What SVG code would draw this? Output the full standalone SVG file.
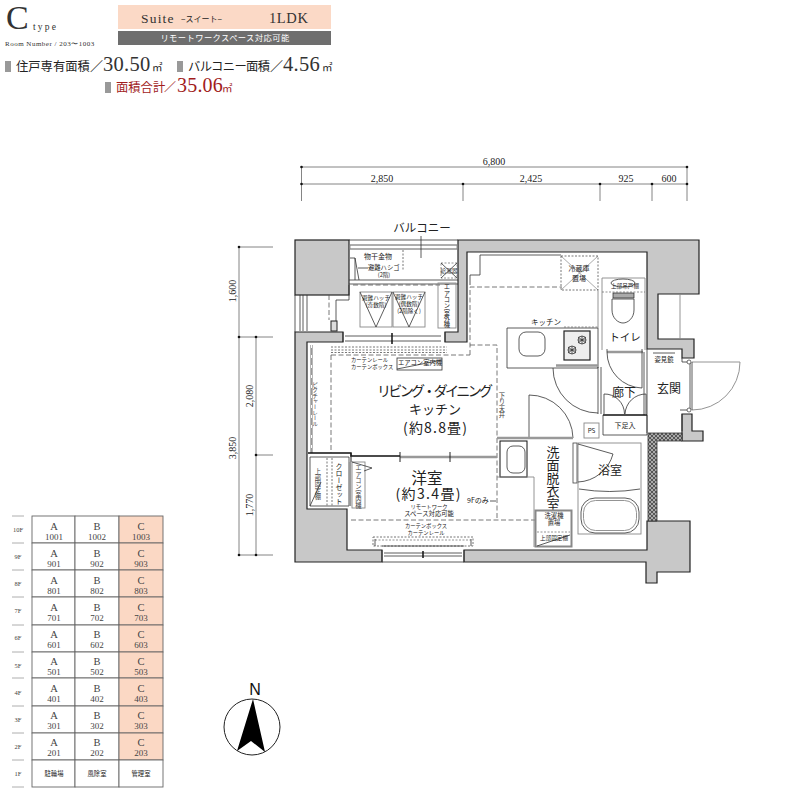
<svg xmlns="http://www.w3.org/2000/svg" width="800" height="800" viewBox="0 0 800 800">
<style>
text{font-family:"Noto Sans CJK JP","Liberation Sans",sans-serif;fill:#222}
.s{font-family:"Liberation Serif","Noto Sans CJK JP",serif}
.m{text-anchor:middle}
.v{writing-mode:vertical-rl;text-anchor:middle}
.t53{font-size:5.3px}.t5{font-size:5.6px}.t6{font-size:6.3px}.t7{font-size:7px}
.wall{fill:#c8c8c8;stroke:#222;stroke-width:1.2}
.l{fill:none;stroke:#333;stroke-width:.8}
.g{fill:none;stroke:#888;stroke-width:.9}
.k{fill:none;stroke:#111;stroke-width:1.5}
.k1{fill:none;stroke:#111;stroke-width:1}
.gb{fill:none;stroke:#999;stroke-width:2.4}
.d{fill:none;stroke:#555;stroke-width:.8;stroke-dasharray:5 2.5}
.ds{fill:none;stroke:#666;stroke-width:.7;stroke-dasharray:2 1.5}
.ds2{fill:none;stroke:#777;stroke-width:1;stroke-dasharray:2 1.5}
.dim{stroke:#666;stroke-width:.8;fill:none}
.dot{fill:#111}
.cell{fill:#fff;stroke:#666;stroke-width:.9}
.cc{fill:#fbd8c4;stroke:#666;stroke-width:.9}
.sep{stroke:#999;stroke-width:.8}
.tl{font-size:10.5px;fill:#444;text-anchor:middle}
.tn{font-size:9px;fill:#444;text-anchor:middle}
.tf{font-size:6.5px;fill:#444;text-anchor:middle}
.big{font-family:"Liberation Serif",serif;fill:#333}
.dm{font-size:10px}
</style>
<defs>
<pattern id="hatch" width="4" height="4" patternUnits="userSpaceOnUse"><rect width="4" height="4" fill="#aaa"/><path d="M0 0L4 4M4 0L0 4" stroke="#333" stroke-width=".7"/></pattern>
</defs>

<g id="header">
<text x="6" y="29" class="big" font-size="34">C</text>
<text x="33" y="30" class="big" font-size="9.5" letter-spacing="2.2">type</text>
<text x="5" y="46" class="big" font-size="7" letter-spacing=".5">Room Number / 203〜1003</text>
<rect x="118" y="5" width="213" height="24" fill="#fbd9c6"/>
<rect x="118" y="31" width="213" height="14" fill="#6e6e6e"/>
<text x="141" y="23" class="big" font-size="13.500" letter-spacing="1.200">Suite</text>
<text x="181" y="22" font-size="8" fill="#444">−スイート−</text>
<text x="269" y="23" class="big" font-size="14.500" letter-spacing=".6">1LDK</text>
<text x="225" y="41" class="m" font-size="8.300" style="fill:#fff" letter-spacing=".4">リモートワークスペース対応可能</text>
<rect x="5" y="61" width="6" height="11" fill="#999"/>
<text x="16" y="71" font-size="12.3" fill="#333">住戸専有面積</text>
<text x="90" y="71" font-size="13">／</text>
<text x="103" y="71" class="big" font-size="20.5" letter-spacing=".3">30.50</text>
<text x="152" y="71" font-size="10.5">㎡</text>
<rect x="177" y="61" width="6" height="11" fill="#999"/>
<text x="188" y="71" font-size="12.3" textLength="82">バルコニー面積</text>
<text x="270" y="71" font-size="13">／</text>
<text x="283" y="71" class="big" font-size="20.5" letter-spacing=".3">4.56</text>
<text x="322" y="71" font-size="10.5">㎡</text>
<rect x="105" y="82" width="6" height="11" fill="#999"/>
<text x="116" y="92" font-size="12.3" style="fill:#a11c1c">面積合計</text>
<text x="164" y="92" font-size="12" style="fill:#a11c1c">／</text>
<text x="177" y="92" class="big" font-size="20" style="fill:#a11c1c" letter-spacing=".2">35.06</text>
<text x="222" y="92" font-size="10.5" style="fill:#a11c1c">㎡</text>
</g>

<g id="dimensions">
<path class="dim" d="M301.500 167H687M301.500 184H687M301.500 167V201M463 184V201M600 184V201M652 184V201M687 167V201M239 247V555M256 337V555M239 247H273M239 337H273M256 455H273M239 555H273"/>
<g class="dot"><circle cx="301.500" cy="167" r="1.300"/><circle cx="687" cy="167" r="1.300"/><circle cx="301.500" cy="184" r="1.300"/><circle cx="463" cy="184" r="1.300"/><circle cx="600" cy="184" r="1.300"/><circle cx="652" cy="184" r="1.300"/><circle cx="687" cy="184" r="1.300"/><circle cx="239" cy="247" r="1.300"/><circle cx="239" cy="337" r="1.300"/><circle cx="256" cy="337" r="1.300"/><circle cx="256" cy="455" r="1.300"/><circle cx="239" cy="555" r="1.300"/><circle cx="256" cy="555" r="1.300"/></g>
<text x="494" y="165" class="s m dm">6,800</text><text x="382" y="182" class="s m dm">2,850</text><text x="531" y="182" class="s m dm">2,425</text><text x="626" y="182" class="s m dm">925</text><text x="669" y="182" class="s m dm">600</text>
<text transform="translate(236,291) rotate(-90)" class="s m dm">1,600</text>
<text transform="translate(236,448) rotate(-90)" class="s m dm">3,850</text>
<text transform="translate(253,396) rotate(-90)" class="s m dm">2,080</text>
<text transform="translate(253,505) rotate(-90)" class="s m dm">1,770</text>
</g>

<g id="plan">
<rect x="295" y="240" width="54" height="55" class="wall"/>
<path class="wall" d="M295 332H343V342H307V509H347V550H382V562H295Z"/>
<path class="wall" d="M464 550H647V521H690V572H657V583H646V562H464Z"/>
<path class="wall" d="M458 240H699V294H658V339H694V358H682V349H647V252H467V342H445V332H458Z"/>
<path class="wall" d="M682 414H692V431H703V441H682Z"/>
<path d="M648 433H682V441H657V521H648Z" fill="url(#hatch)" stroke="#333" stroke-width=".8"/>

<!-- balcony -->
<path class="l" d="M349 240H458M350 245H457M350 249H457M349 280H458M349 284H458M295 295V332M300 295V331M303 295V331M307 295V331"/>
<path class="g" d="M350 245V249M457 245V249M680 294V339"/>
<path class="d" d="M329 295V320M353 285H440"/>
<path class="ds2" d="M403 250V271"/>
<path class="l" d="M421 236V258M350 258H355V280M355 258L359 280M358 268H368M336 321V300H349V285"/>
<rect x="331" y="321" width="6" height="10" fill="#ddd" stroke="#222"/>
<text x="364" y="259" class="t7">物干金物</text>
<text x="368" y="270" class="t6">避難ハシゴ</text>
<text x="384" y="277" class="t5 m">(2階)</text>
<rect x="441" y="263" width="16" height="15" class="ds"/>
<path class="l" d="M441 263L457 278M457 263L441 278"/>
<text x="449" y="273" class="t5 m">給湯器</text>
<rect x="360" y="292" width="32" height="35" class="g"/>
<rect x="393" y="292" width="32" height="35" class="g"/>
<path class="l" d="M360 292L376 327L392 292M393 292L409 327L425 292"/>
<text x="376" y="300" class="t5 m">避難ハッチ</text><text x="376" y="307" class="t5 m">(奇数階)</text>
<text x="409" y="299" class="t5 m">避難ハッチ</text><text x="409" y="306" class="t5 m">(偶数階)</text><text x="409" y="313" class="t5 m">(2階除く)</text>
<rect x="438" y="283" width="18" height="45" class="g"/>
<text x="447" y="306" class="t6 v">エアコン室外機</text>

<!-- top window -->
<path class="l" d="M345 336H441M345 341H441M343 332V342M445 332V342"/>
<path stroke="#111" stroke-width="1.500" d="M392 333V344"/>
<path class="ds2" d="M331 347H447M331 350H447M331 352.500H447"/>
<path class="d" d="M331 355V453M331 355H470M470 355V287H562M470 345H497V520M351 520H570"/>
<text x="351" y="362" class="t53">カーテンレール</text>
<text x="351" y="368.500" class="t53">カーテンボックス</text>
<rect x="397" y="358" width="45" height="12" fill="#fff" stroke="#333" stroke-width=".8"/>
<path class="l" d="M397 369L442 360"/>
<text x="420" y="365" class="t6 m">エアコン室内機</text>

<!-- left side -->
<path class="gb" d="M311.500 345V453"/>
<path stroke="#fff" stroke-width="1" stroke-dasharray="3 7" d="M311.500 345V453"/>
<text x="315" y="404" class="t5 v" style="fill:#444">ピクチャーレール</text>
<text x="435" y="396" class="m" font-size="14" textLength="116">リビング・ダイニング</text>
<text x="435" y="414" class="m" font-size="13">キッチン</text>
<text x="435" y="433" class="m" font-size="14" textLength="64">(約8.8畳)</text>
<text x="502" y="405" class="t6 v" style="fill:#444">下り天井</text>

<!-- partition -->
<path class="k" d="M308 453H351V456H400"/>
<path class="gb" d="M400 457H497"/>
<path stroke="#222" d="M400 452V462M450 452V462M351 453V462"/>
<path class="l" d="M310 457V506H349V457Z"/>
<path class="gb" d="M350 462V506"/>
<path class="ds2" d="M327 458V506M332 458V506"/>
<text x="318" y="484" class="t6 v" style="fill:#444">上部固定棚</text>
<path class="l" d="M310 506L321 482"/>
<text x="339" y="484" class="t7 v">クローゼット</text>
<rect x="352" y="462" width="13" height="46" fill="#fff" stroke="#888" stroke-width=".9"/>
<path class="l" d="M352 462L372 468L364 471"/>
<text x="358.500" y="487" class="t6 v" style="fill:#444">エアコン室内機</text>
<text x="427" y="484" class="m" font-size="15.500">洋室</text>
<text x="428" y="499" class="m" font-size="14" textLength="65">(約3.4畳)</text>
<text x="429" y="509" class="t53 m">リモートワーク</text>
<text x="429" y="516" class="t6 m">スペース対応可能</text>
<text x="467" y="503" class="t7">9Fのみ</text>
<path class="l" d="M490 501H496"/>
<text x="426" y="528" class="t53 m">カーテンボックス</text>
<text x="426" y="535" class="t53 m">カーテンレール</text>
<rect x="373" y="537" width="100" height="9" class="ds2"/>
<path class="ds" d="M375 540H471"/>
<path class="l" d="M375 539V546M471 539V546M382 546H464M382 562H464M382 550V562M464 550V562M384 553H462M384 556H462"/>
<path stroke="#111" stroke-width="1.500" d="M423 551V558"/>

<!-- kitchen -->
<path class="l" d="M507 328H598V368H507Z"/>
<path class="gb" d="M556 365.500H598"/>
<rect x="519" y="332" width="26" height="24" rx="7" class="l"/>
<path class="ds" d="M564 327H598"/>
<rect x="564" y="331" width="26" height="29" fill="#eee" stroke="#222" stroke-width="1.200"/>
<circle cx="582" cy="340" r="4" class="l"/><circle cx="572" cy="350" r="4" class="l"/>
<path class="l" d="M578 340H586M582 336V344M568 350H576M572 346V354M578 337L586 343M586 337L578 343M568 347L576 353M576 347L568 353"/>
<text x="531" y="325" font-size="7.500">キッチン</text>
<rect x="561" y="256" width="37" height="34" class="ds2"/>
<path stroke="#555" stroke-width=".5" d="M561 256L598 290M598 256L561 290"/>
<text x="579" y="271" class="t7 m">冷蔵庫</text><text x="579" y="281" class="t7 m">置場</text>
<path class="g" d="M598 290V328"/>
<path class="l" d="M480 255H561M480 255V275H470V285"/>

<!-- toilet -->
<path class="g" d="M602 350V278H645V350"/>
<path class="ds" d="M602 292H645"/>
<ellipse cx="623" cy="283" rx="12" ry="4" class="l"/>
<text x="625" y="288" class="t5 m">上部吊戸棚</text>
<rect x="613" y="293" width="21" height="5" fill="#aaa" stroke="#222" stroke-width=".7"/>
<path class="l" d="M612 299H634V310C634 318 628 323 623 323C618 323 612 318 612 310Z"/>
<text x="625" y="341" class="m" font-size="10.500">トイレ</text>
<path class="gb" d="M607 352H643"/>
<path class="l" d="M607 349V352A36 36 0 0 0 642 388V349M598 367V414M601 367V414M644 352V415M647 349V433"/>
<text x="624" y="397" class="m" font-size="12">廊下</text>
<path class="l" d="M604 414V394A20 20 0 0 1 624.500 414M646 414V394A21 21 0 0 0 625 414"/>
<path class="k" d="M603 415H647"/>
<path class="l" d="M603 415V435H647V415"/>
<text x="625" y="428" class="t7 m">下足入</text>
<text x="669" y="393" class="m" font-size="12">玄関</text>
<text x="664" y="362" class="t6 m">姿見鏡</text>
<path class="l" d="M653 353H675"/>

<!-- entry door -->
<path class="g" d="M692 362H740A48 48 0 0 1 692 410"/>
<path class="l" d="M690 362V410M692 362V410M682 358V362H688M680 410H688M682 414V431"/>
<circle cx="689" cy="362" r="2" fill="#fff" stroke="#333" stroke-width=".7"/><circle cx="689" cy="410" r="2" fill="#fff" stroke="#333" stroke-width=".7"/>

<!-- kitchen door, PS, washroom -->
<path class="l" d="M553 368A45 45 0 0 0 598 413M529 395V438M529 395A44 44 0 0 1 573 438"/>
<rect x="584" y="423" width="15" height="15" class="g"/>
<text x="591.500" y="433" class="t6 m">PS</text>
<path class="gb" d="M497 438H530M530 438H573"/>
<rect x="500" y="441" width="27" height="36" class="k1"/>
<rect x="507" y="446" width="18" height="27" rx="6" class="l"/>
<path class="g" d="M497 477H534V547"/>
<text x="553" y="478" class="v" font-size="13">洗面脱衣室</text>
<rect x="535.500" y="510.500" width="36" height="36" fill="#fff" stroke="#888" stroke-width="2"/>
<text x="554" y="518" class="t6 m">洗濯機</text><text x="554" y="525" class="t6 m">置場</text>
<path class="ds" d="M537 532H570"/>
<path class="l" d="M537 546L570 535"/>
<text x="554" y="540" class="t5 m">上部固定棚</text>

<!-- bath -->
<rect x="578" y="443" width="63" height="91" class="g"/>
<rect x="573" y="443" width="4" height="40" fill="#fff" stroke="#444" stroke-width=".8"/>
<path class="l" d="M578 444L613 454A38 38 0 0 1 578 482"/>
<path class="l" d="M579 489Q610 494 640 489"/>
<text x="610" y="475" class="m" font-size="12">浴室</text>
<rect x="581" y="498" width="58" height="35" rx="14" class="l"/>
<rect x="583.500" y="500.500" width="53" height="30" rx="12" class="g"/>
</g>

<g id="floor-table">
<path class="sep" d="M12 516H24M12 543H24M12 570H24M12 597H24M12 625H24M12 652H24M12 678H24M12 706H24M12 733H24M12 760H24M12 787H24"/>
<rect x="32" y="516" width="43" height="27" class="cell"/><rect x="75" y="516" width="44" height="27" class="cell"/><rect x="119" y="516" width="44" height="27" class="cc"/>
<rect x="32" y="543" width="43" height="27" class="cell"/><rect x="75" y="543" width="44" height="27" class="cell"/><rect x="119" y="543" width="44" height="27" class="cc"/>
<rect x="32" y="570" width="43" height="27" class="cell"/><rect x="75" y="570" width="44" height="27" class="cell"/><rect x="119" y="570" width="44" height="27" class="cc"/>
<rect x="32" y="597" width="43" height="28" class="cell"/><rect x="75" y="597" width="44" height="28" class="cell"/><rect x="119" y="597" width="44" height="28" class="cc"/>
<rect x="32" y="625" width="43" height="27" class="cell"/><rect x="75" y="625" width="44" height="27" class="cell"/><rect x="119" y="625" width="44" height="27" class="cc"/>
<rect x="32" y="652" width="43" height="26" class="cell"/><rect x="75" y="652" width="44" height="26" class="cell"/><rect x="119" y="652" width="44" height="26" class="cc"/>
<rect x="32" y="678" width="43" height="28" class="cell"/><rect x="75" y="678" width="44" height="28" class="cell"/><rect x="119" y="678" width="44" height="28" class="cc"/>
<rect x="32" y="706" width="43" height="27" class="cell"/><rect x="75" y="706" width="44" height="27" class="cell"/><rect x="119" y="706" width="44" height="27" class="cc"/>
<rect x="32" y="733" width="43" height="27" class="cell"/><rect x="75" y="733" width="44" height="27" class="cell"/><rect x="119" y="733" width="44" height="27" class="cc"/>
<rect x="32" y="760" width="43" height="27" class="cell"/><rect x="75" y="760" width="44" height="27" class="cell"/><rect x="119" y="760" width="44" height="27" fill="#fff" stroke="#666" stroke-width=".9"/>
<text x="18" y="532" class="s tf">10F</text><text x="54" y="530" class="s tl">A</text><text x="54" y="540" class="s tn">1001</text><text x="97" y="530" class="s tl">B</text><text x="97" y="540" class="s tn">1002</text><text x="141" y="530" class="s tl">C</text><text x="141" y="540" class="s tn">1003</text>
<text x="18" y="559" class="s tf">9F</text><text x="54" y="557" class="s tl">A</text><text x="54" y="567" class="s tn">901</text><text x="97" y="557" class="s tl">B</text><text x="97" y="567" class="s tn">902</text><text x="141" y="557" class="s tl">C</text><text x="141" y="567" class="s tn">903</text>
<text x="18" y="586" class="s tf">8F</text><text x="54" y="584" class="s tl">A</text><text x="54" y="594" class="s tn">801</text><text x="97" y="584" class="s tl">B</text><text x="97" y="594" class="s tn">802</text><text x="141" y="584" class="s tl">C</text><text x="141" y="594" class="s tn">803</text>
<text x="18" y="613" class="s tf">7F</text><text x="54" y="611" class="s tl">A</text><text x="54" y="621" class="s tn">701</text><text x="97" y="611" class="s tl">B</text><text x="97" y="621" class="s tn">702</text><text x="141" y="611" class="s tl">C</text><text x="141" y="621" class="s tn">703</text>
<text x="18" y="640" class="s tf">6F</text><text x="54" y="638" class="s tl">A</text><text x="54" y="648" class="s tn">601</text><text x="97" y="638" class="s tl">B</text><text x="97" y="648" class="s tn">602</text><text x="141" y="638" class="s tl">C</text><text x="141" y="648" class="s tn">603</text>
<text x="18" y="668" class="s tf">5F</text><text x="54" y="665" class="s tl">A</text><text x="54" y="675" class="s tn">501</text><text x="97" y="665" class="s tl">B</text><text x="97" y="675" class="s tn">502</text><text x="141" y="665" class="s tl">C</text><text x="141" y="675" class="s tn">503</text>
<text x="18" y="695" class="s tf">4F</text><text x="54" y="692" class="s tl">A</text><text x="54" y="702" class="s tn">401</text><text x="97" y="692" class="s tl">B</text><text x="97" y="702" class="s tn">402</text><text x="141" y="692" class="s tl">C</text><text x="141" y="702" class="s tn">403</text>
<text x="18" y="722" class="s tf">3F</text><text x="54" y="719" class="s tl">A</text><text x="54" y="729" class="s tn">301</text><text x="97" y="719" class="s tl">B</text><text x="97" y="729" class="s tn">302</text><text x="141" y="719" class="s tl">C</text><text x="141" y="729" class="s tn">303</text>
<text x="18" y="749" class="s tf">2F</text><text x="54" y="746" class="s tl">A</text><text x="54" y="756" class="s tn">201</text><text x="97" y="746" class="s tl">B</text><text x="97" y="756" class="s tn">202</text><text x="141" y="746" class="s tl">C</text><text x="141" y="756" class="s tn">203</text>
<text x="18" y="776" class="s tf">1F</text>
<text x="54" y="776" class="t6 m">駐輪場</text><text x="97" y="776" class="t6 m">風除室</text><text x="141" y="776" class="t6 m">管理室</text>
</g>

<g id="compass">
<circle cx="252" cy="727" r="28" fill="#fff" stroke="#222" stroke-width="1"/>
<path d="M253 699L265 752L251 741L237 751Z" fill="#000"/>
<text x="255" y="695" class="m" font-size="16" style="font-family:'Liberation Sans',sans-serif;fill:#111">N</text>
</g>

<g id="label-balcony"><text x="422" y="232" class="m" font-size="11.500">バルコニー</text></g>
</svg>
